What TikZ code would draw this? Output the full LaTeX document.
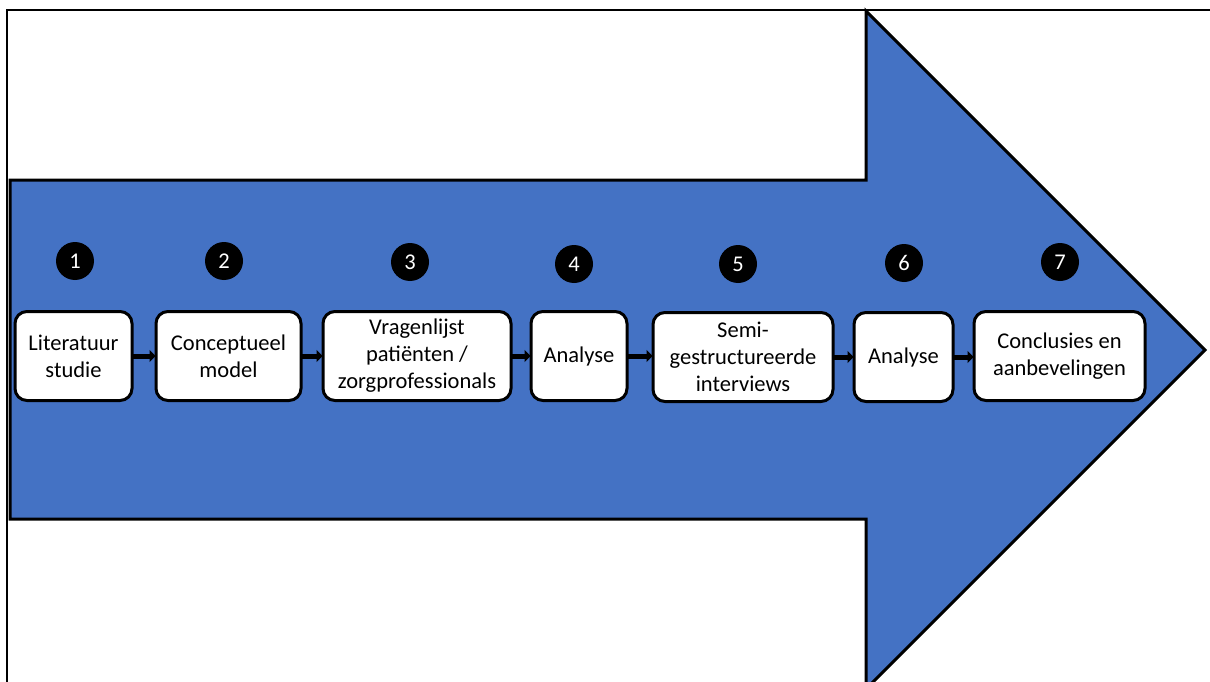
\documentclass[tikz,border=0pt]{standalone}
\usepackage{fontspec}
\setmainfont{Carlito}
\usetikzlibrary{arrows.meta}
\definecolor{flowblue}{HTML}{4472C4}
\tikzset{
  stepbox/.style={draw=black, line width=3pt, fill=white, rounded corners=12pt,
    minimum height=89pt, align=center, inner sep=1pt,
    font=\fontsize{22.5pt}{27pt}\selectfont},
  badge/.style={circle, fill=black, minimum size=38pt, inner sep=0pt,
    text=white, font=\fontsize{22.5pt}{24pt}\selectfont},
  link/.style={draw=black, line width=5pt,
    -{Triangle[length=6pt,width=12pt]}, shorten <=-1pt, shorten >=-1pt},
}
\begin{document}
\begin{tikzpicture}[x=1pt, y=-1pt]
  \useasboundingbox (0,0) rectangle (1210,682);
  % outer frame (right and bottom edges lie beyond the page)
  \draw[line width=2pt] (7,10) rectangle (1230,700);
  % big process arrow
  \draw[line width=3pt, fill=flowblue, line join=miter]
    (10,180) -- (866,180) -- (866,11) -- (1205,350) -- (866,689)
    -- (866,519) -- (10,519) -- cycle;
  % process steps
  \node[stepbox, minimum width=117pt] (b1) at (73.5,356) {Literatuur\\studie};
  \node[stepbox, minimum width=145pt] (b2) at (228.5,356) {Conceptueel\\model};
  \node[stepbox, minimum width=188pt] (b3) at (417,356) {Vragenlijst\\pati\"enten /\\zorgprofessionals};
  \node[stepbox, minimum width=96pt] (b4) at (579,356) {Analyse};
  \node[stepbox, minimum width=180pt] (b5) at (743,357) {Semi-\\gestructureerde\\interviews};
  \node[stepbox, minimum width=99pt] (b6) at (903.5,357) {Analyse};
  \node[stepbox, minimum width=171pt] (b7) at (1059.5,356) {Conclusies en\\aanbevelingen};
  % step numbers
  \node[badge] (n1) at (75,261) {1};
  \node[badge] (n2) at (224,261) {2};
  \node[badge] (n3) at (410,262) {3};
  \node[badge] (n4) at (574,264) {4};
  \node[badge] (n5) at (738,264) {5};
  \node[badge] (n6) at (904,263) {6};
  \node[badge] (n7) at (1060,262) {7};
  % connectors, kept horizontal at the level of the source box
  \draw[link] (b1.east) -- (b1.east -| b2.west);
  \draw[link] (b2.east) -- (b2.east -| b3.west);
  \draw[link] (b3.east) -- (b3.east -| b4.west);
  \draw[link] (b4.east) -- (b4.east -| b5.west);
  \draw[link] (b5.east) -- (b5.east -| b6.west);
  \draw[link] (b6.east) -- (b6.east -| b7.west);
\end{tikzpicture}
\end{document}
